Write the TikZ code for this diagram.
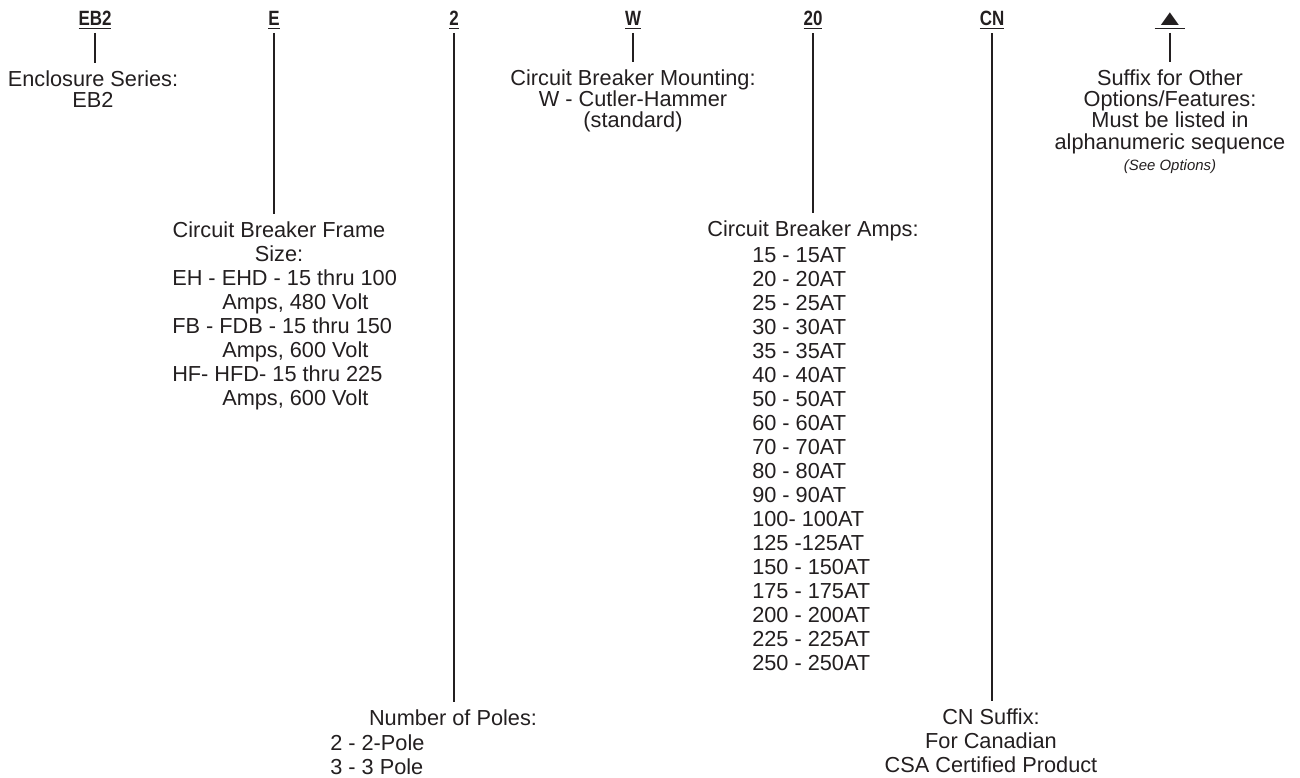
\documentclass[tikz,border=0pt]{standalone}
\usepackage{fontspec}
\setmainfont{Liberation Sans}
\newfontfamily\hdfont[FakeStretch=0.82]{Liberation Sans}
\usetikzlibrary{positioning}
\definecolor{ink}{RGB}{35,31,32}

\begin{document}
\begin{tikzpicture}[x=0.75pt, y=-0.75pt,
  code/.style={font=\hdfont\bfseries\fontsize{15.5}{16}\selectfont, text=ink, inner sep=0pt, anchor=base},
  desc/.style={font=\fontsize{16.3}{16.1}\selectfont, text=ink, inner sep=0pt, align=center, anchor=north},
  descwide/.style={desc, font=\fontsize{16.3}{18}\selectfont},
  lst/.style={descwide, align=left, anchor=north west},
  lead/.style={draw=ink, line width=0.8pt, shorten <=3pt, shorten >=5pt}]
\fill[white] (0,0) rectangle (1300,778);
\useasboundingbox (0,0) rectangle (1300,778);

% code letters
\node[code] (hEB2) at (95,26) {\underline{EB2}};
\node[code] (hE) at (274,26) {\underline{E}};
\node[code] (h2) at (454,26) {\underline{2}};
\node[code] (hW) at (633,26) {\underline{W}};
\node[code] (h20) at (813,26) {\underline{20}};
\node[code] (hCN) at (992,26) {\underline{CN}};
\node[code] (hSfx) at (1170,26) {\underline{\normalfont\scalebox{1.5}[1.05]{▲}}};

% short leads
\node[desc] (bEncl) at (93,70) {Enclosure Series:\\EB2};
\node[desc] (bMount) at (633,69) {Circuit Breaker Mounting:\\W - Cutler-Hammer\\(standard)};
\node[desc] (bSfx) at (1170,69) {Suffix for Other\\Options/Features:\\Must be listed in\\alphanumeric sequence\\{\fontsize{11.2}{14}\selectfont\itshape (See Options)}};

% middle leads
\node[descwide] (bFrame) at (279,221) {Circuit Breaker Frame\\Size:};
\node[lst] (bFrameList) at (172,269) {EH - EHD - 15 thru 100\\\hspace*{37.5pt}Amps, 480 Volt\\FB - FDB - 15 thru 150\\\hspace*{37.5pt}Amps, 600 Volt\\HF- HFD- 15 thru 225\\\hspace*{37.5pt}Amps, 600 Volt};
\node[descwide] (bAmps) at (813,220) {Circuit Breaker Amps:};
\node[lst] (bAmpsList) at (752,247) {15 - 15AT\\20 - 20AT\\25 - 25AT\\30 - 30AT\\35 - 35AT\\40 - 40AT\\50 - 50AT\\60 - 60AT\\70 - 70AT\\80 - 80AT\\90 - 90AT\\100- 100AT\\125 -125AT\\150 - 150AT\\175 - 175AT\\200 - 200AT\\225 - 225AT\\250 - 250AT};

% long leads
\node[descwide] (bPoles) at (453,709) {Number of Poles:};
\node[lst] (bPolesList) at (330,734) {2 - 2-Pole\\3 - 3 Pole};
\node[desc, font=\fontsize{16.3}{18.2}\selectfont] (bCN) at (991,708) {CN Suffix:\\For Canadian\\CSA Certified Product};

\draw[lead] (hEB2.south) -- (hEB2.south |- bEncl.north);
\draw[lead] (hE.south) -- (hE.south |- bFrame.north);
\draw[lead] (h2.south) -- (h2.south |- bPoles.north);
\draw[lead] (hW.south) -- (hW.south |- bMount.north);
\draw[lead] (h20.south) -- (h20.south |- bAmps.north);
\draw[lead] (hCN.south) -- (hCN.south |- bCN.north);
\draw[lead] (hSfx.south) -- (hSfx.south |- bSfx.north);
\end{tikzpicture}
\end{document}
